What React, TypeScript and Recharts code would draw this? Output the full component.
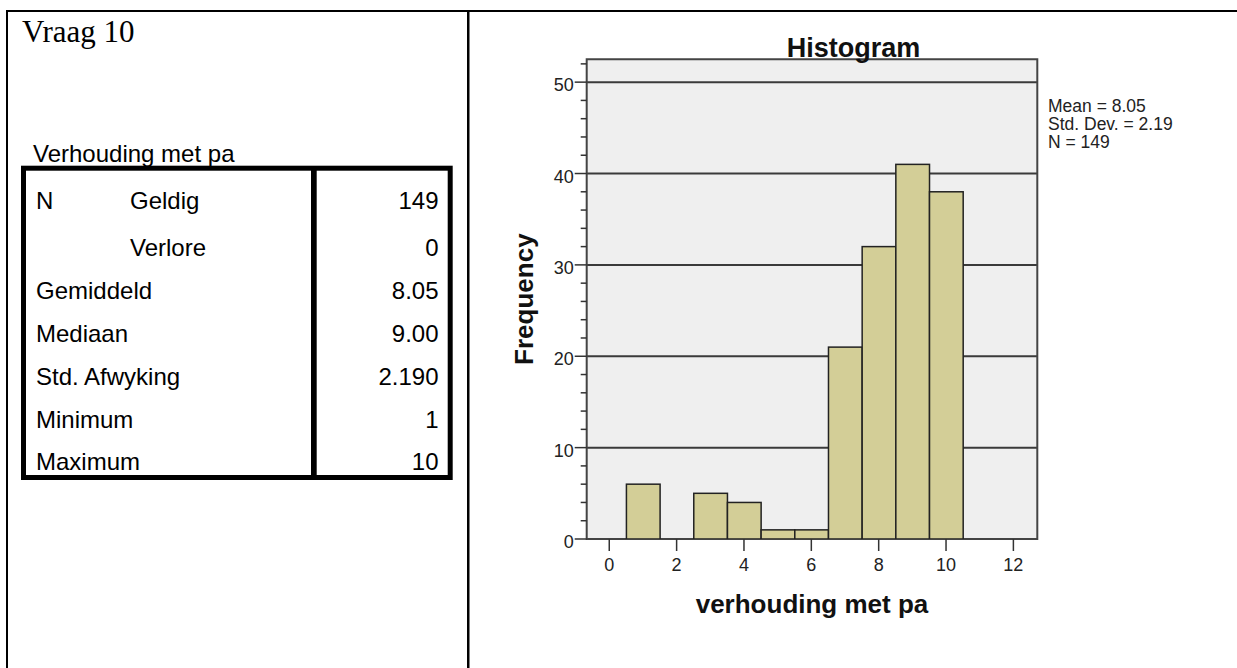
import React from "react";
import { BarChart, Bar, XAxis, YAxis, CartesianGrid, ReferenceArea } from "recharts";

// histogram bins (value) and their frequencies
const bins = [1, 2, 3, 4, 5, 6, 7, 8, 9, 10];
const counts = [6, 0, 5, 4, 1, 1, 21, 32, 41, 38];

const xTicks = [0, 2, 4, 6, 8, 10, 12];
const yTicks = [0, 2, 4, 6, 8, 10, 12, 14, 16, 18, 20, 22, 24, 26, 28, 30, 32, 34, 36, 38, 40, 42, 44, 46, 48, 50, 52];
const gridValues = [10, 20, 30, 40, 50];
const xDomain = [-0.67, 12.71];
const yDomain = [0, 52.5];

const statLines = ["Mean = 8.05", "Std. Dev. = 2.19", "N = 149"];

// SPSS statistics table
const rowLabels = ["N", "", "Gemiddeld", "Mediaan", "Std. Afwyking", "Minimum", "Maximum"];
const subLabels = ["Geldig", "Verlore", "", "", "", "", ""];
const rowValues = ["149", "0", "8.05", "9.00", "2.190", "1", "10"];

const data = bins.map((b, i) => ({ bin: b, count: counts[i] }));

// plot box in page pixels
const PLOT = { left: 586.7, right: 1037.3, top: 59.3, bottom: 539 };
const Y_AXIS_W = 125.4;
const X_AXIS_H = 80;
const W = 1237;
const H = 668;

// one bin = one unit on the x scale
const binPx = (PLOT.right - PLOT.left) / (xDomain[1] - xDomain[0]);

const ink = "#222";
const barFill = "#D3CE97";
const plotBg = "#EFEFEF";

const YTick = (props: any) => {
  const { x, y, payload } = props;
  const v = payload.value;
  const major = v % 10 === 0;
  const axisX = x + 13;
  return (
    <g>
      <line x1={axisX - (major ? 12 : 6)} x2={axisX} y1={y} y2={y} stroke="#333" strokeWidth={1.5} />
      {major && (
        <text x={x} y={y + 9} textAnchor="end" fontSize={18} fill={ink}>
          {v}
        </text>
      )}
    </g>
  );
};

const XTick = (props: any) => {
  const { x, y, payload } = props;
  const axisY = y - 18;
  return (
    <g>
      <line x1={x} x2={x} y1={axisY} y2={axisY + 12} stroke="#333" strokeWidth={1.5} />
      <text x={x} y={y + 13.5} textAnchor="middle" fontSize={18} fill={ink}>
        {payload.value}
      </text>
    </g>
  );
};

// widen each bar to the full bin so neighbours touch
const HistBar = (props: any) => {
  const { x, y, width, height } = props;
  if (!height) return null;
  const cx = x + width / 2;
  return (
    <rect
      x={cx - binPx / 2}
      y={y}
      width={binPx}
      height={height}
      fill={barFill}
      stroke="#222"
      strokeWidth={1.5}
    />
  );
};

const rowBaselines = [209, 256, 299, 342, 385, 428, 470];

export default function App() {
  return (
    <div
      style={{
        position: "absolute",
        left: 0,
        top: 0,
        width: W,
        height: H,
        background: "#fff",
        overflow: "hidden",
        fontFamily: "'Liberation Sans', Arial, sans-serif",
      }}
    >
      <div style={{ position: "absolute", left: 0, top: 0 }}>
        <BarChart
          width={W}
          height={H}
          data={data}
          barCategoryGap={0}
          margin={{
            top: PLOT.top,
            right: W - PLOT.right,
            bottom: H - PLOT.bottom - X_AXIS_H,
            left: PLOT.left - Y_AXIS_W,
          }}
        >
          <CartesianGrid
            vertical={false}
            horizontalValues={gridValues}
            stroke="#3a3a3a"
            strokeWidth={2}
            fill={plotBg}
            fillOpacity={1}
          />
          <XAxis
            dataKey="bin"
            type="number"
            domain={xDomain}
            ticks={xTicks}
            allowDataOverflow
            axisLine={false}
            tickLine={false}
            tickSize={12}
            tickMargin={6}
            height={X_AXIS_H}
            tick={<XTick />}
            interval={0}
            label={{
              value: "verhouding met pa",
              position: "insideBottom",
              offset: 6,
              style: { fontSize: 26, fontWeight: 700, fill: "#111" },
            }}
          />
          <YAxis
            type="number"
            domain={yDomain}
            ticks={yTicks}
            allowDataOverflow
            axisLine={false}
            tickLine={false}
            tickSize={12}
            tickMargin={1}
            width={Y_AXIS_W}
            tick={<YTick />}
            interval={0}
            label={{
              value: "Frequency",
              angle: -90,
              position: "center",
              style: { fontSize: 26, fontWeight: 700, fill: "#111" },
            }}
          />
          <Bar
            dataKey="count"
            fill={barFill}
            stroke="#222"
            strokeWidth={1.5}
            barSize={binPx}
            shape={<HistBar />}
            isAnimationActive={false}
          />
          <ReferenceArea
            x1={xDomain[0]}
            x2={xDomain[1]}
            y1={yDomain[0]}
            y2={yDomain[1]}
            fill="none"
            fillOpacity={0}
            stroke="#444"
            strokeWidth={2}
            ifOverflow="visible"
          />
        </BarChart>
      </div>

      <svg
        width={W}
        height={H}
        style={{ position: "absolute", left: 0, top: 0, pointerEvents: "none" }}
      >
        {/* page frame */}
        <rect x={6} y={10} width={W - 6} height={2} fill="#000" />
        <rect x={6} y={10} width={2} height={H - 10} fill="#000" />
        <rect x={467} y={10} width={2.5} height={H - 10} fill="#000" />

        <text x={22} y={41.5} fontSize={31} fontFamily="'Liberation Serif', 'Times New Roman', serif" fill="#000">
          Vraag 10
        </text>
        <text x={33} y={161.5} fontSize={24} fill="#000">
          Verhouding met pa
        </text>

        {/* stats table */}
        <rect x={23.5} y={168.2} width={426.7} height={309.3} fill="none" stroke="#000" strokeWidth={5} />
        <rect x={311} y={166} width={5.7} height={314} fill="#000" />
        {rowLabels.map((l, i) => (
          <text key={"l" + i} x={36} y={rowBaselines[i]} fontSize={24} fill="#000">
            {l}
          </text>
        ))}
        {subLabels.map((l, i) => (
          <text key={"s" + i} x={130} y={rowBaselines[i]} fontSize={24} fill="#000">
            {l}
          </text>
        ))}
        {rowValues.map((v, i) => (
          <text key={"v" + i} x={438.5} y={rowBaselines[i]} fontSize={24} textAnchor="end" fill="#000">
            {v}
          </text>
        ))}

        {/* histogram title & summary */}
        <text x={786.7} y={56.7} fontSize={27} fontWeight={700} fill="#111">
          Histogram
        </text>
        {statLines.map((s, i) => (
          <text key={s} x={1048} y={111.7 + i * 18} fontSize={17.5} fill={ink}>
            {s}
          </text>
        ))}
      </svg>
    </div>
  );
}
